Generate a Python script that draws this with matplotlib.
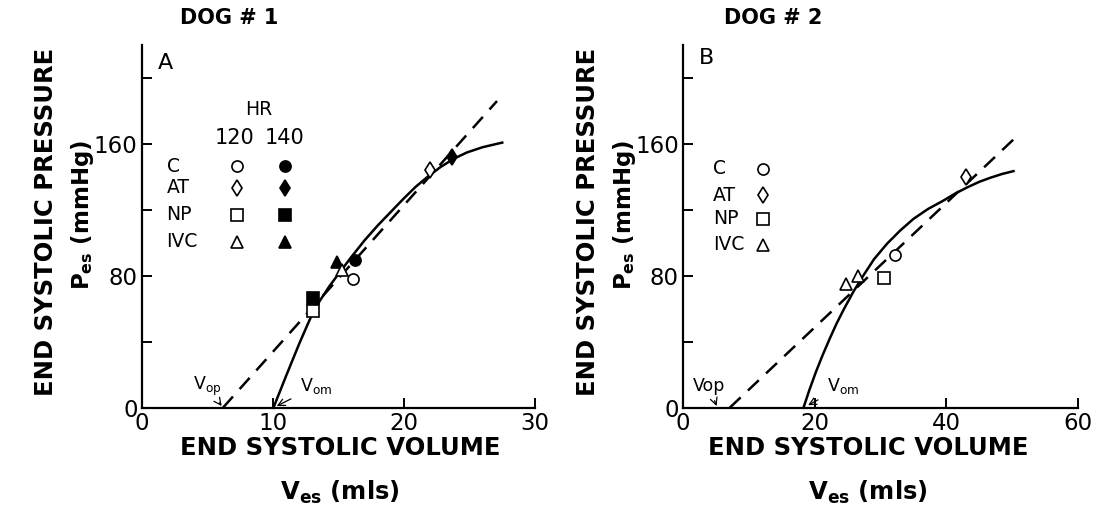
import matplotlib
matplotlib.use("Agg")
import matplotlib.pyplot as plt

# ---------------- data ----------------
# Panel A (Dog #1)
a_c120 = (16.15, 77.9)
a_c140 = (16.3, 89.6)
a_at120 = (22.0, 144.2)
a_at140 = (23.7, 151.9)
a_np120 = (13.05, 58.9)
a_np140 = (13.05, 66.4)
a_ivc120 = (15.27, 83.6)
a_ivc140 = (14.93, 88.6)

a_curve_x = [10.05, 11.0, 12.0, 12.6, 13.05, 13.6, 14.3, 15.0, 16.0, 17.0, 18.0, 19.2,
             20.0, 20.9, 21.8, 22.8, 23.8, 24.8, 26.0, 27.5]
a_curve_y = [0.0, 19.0, 38.5, 49.5, 57.5, 65.0, 73.5, 81.0, 91.5, 101.5, 110.5, 120.4,
             127.0, 134.0, 140.0, 146.0, 151.0, 154.8, 158.0, 160.8]
a_dash_x = [6.2, 27.1]
a_dash_y = [0.0, 186.0]

# Panel B (Dog #2)
b_c = (32.2, 92.6)
b_at = (43.0, 139.9)
b_np = (30.6, 78.9)
b_ivc_x = [24.7, 26.55]
b_ivc_y = [74.9, 80.0]

b_curve_x = [18.3, 19.2, 20.2, 21.2, 22.3, 23.3, 24.4, 25.9, 27.4, 29.0, 31.0, 33.0,
             35.0, 37.2, 39.5, 41.3, 43.1, 45.0, 46.7, 48.5, 50.2]
b_curve_y = [0.0, 10.8, 21.8, 31.8, 42.0, 50.8, 59.5, 70.5, 80.2, 90.0, 99.5, 107.5,
             114.5, 120.5, 125.5, 129.8, 133.5, 137.0, 139.5, 141.8, 143.5]
b_dash_x = [7.1, 51.1]
b_dash_y = [0.0, 166.1]

legend_rows = ["C", "AT", "NP", "IVC"]
legend_markers = ["o", "d", "s", "^"]
hr_labels = ["120", "140"]

a_xticks = [0, 10, 20, 30]
b_xticks = [0, 20, 40, 60]
yticks = [0, 40, 80, 120, 160, 200]
ytick_labels = ["0", "", "80", "", "160", ""]

# ---------------- figure ----------------
W, H = 1108, 521
plt.rcParams['font.family'] = ['DejaVu Sans']
fig = plt.figure(figsize=(W / 100, H / 100), dpi=100)

def px_rect(x0, x1, ytop, ybot):
    return [x0 / W, 1 - ybot / H, (x1 - x0) / W, (ybot - ytop) / H]

axA = fig.add_axes(px_rect(141.7, 535, 45, 407.7))
axB = fig.add_axes(px_rect(683, 1078, 45, 407.7))

def style(ax, xmax, xticks):
    ax.set_xlim(0, xmax)
    ax.set_ylim(0, 220)
    for s in ["top", "right"]:
        ax.spines[s].set_visible(False)
    for s in ["left", "bottom"]:
        ax.spines[s].set_linewidth(1.6)
    ax.set_xticks(xticks)
    ax.set_xticklabels([str(t) for t in xticks])
    ax.set_yticks(yticks)
    ax.set_yticklabels(ytick_labels)
    ax.tick_params(direction="in", length=7, width=1.4, labelsize=16.5, pad=3)

style(axA, 30, a_xticks)
style(axB, 60, b_xticks)

lw = 1.8
dash = (0, (6, 4))
ms = 8
mew = 1.2

# Panel A lines
axA.plot(a_curve_x, a_curve_y, color="black", lw=lw, clip_on=False,
         solid_joinstyle="round")
axA.plot(a_dash_x, a_dash_y, color="black", lw=lw, linestyle=dash, clip_on=False)

openkw = dict(markerfacecolor="white", markeredgecolor="black", markeredgewidth=mew,
              markersize=ms, linestyle="none", clip_on=False, zorder=5)
fillkw = dict(markerfacecolor="black", markeredgecolor="black", markeredgewidth=mew,
              markersize=ms, linestyle="none", clip_on=False, zorder=5)

a_open = [a_c120, a_at120, a_np120, a_ivc120]
a_fill = [a_c140, a_at140, a_np140, a_ivc140]
for m, p in zip(legend_markers, a_fill):
    axA.plot([p[0]], [p[1]], marker=m, **fillkw)
for m, p in zip(legend_markers, a_open):
    axA.plot([p[0]], [p[1]], marker=m, **openkw)

# Panel A legend
rows_y_A = [146.4, 133.3, 116.9, 100.7]
axA.text(8.9, 180.6, "HR", fontsize=13.5, ha="center", va="center")
axA.text(7.1, 163.5, hr_labels[0], fontsize=15, ha="center", va="center")
axA.text(10.9, 163.5, hr_labels[1], fontsize=15, ha="center", va="center")
for lab, m, yy in zip(legend_rows, legend_markers, rows_y_A):
    axA.text(1.9, yy, lab, fontsize=13.5, ha="left", va="center")
    axA.plot([7.25], [yy], marker=m, **openkw)
    axA.plot([10.94], [yy], marker=m, **fillkw)

axA.text(1.78, 209, "A", fontsize=16, ha="center", va="center")

# Vop / Vom annotations A
axA.annotate("V$_{\\mathrm{op}}$", xy=(6.1, 1.0), xytext=(5.0, 13.0), fontsize=12.5,
             ha="center", va="center",
             arrowprops=dict(arrowstyle="->", color="black", lw=0.9, shrinkA=2, shrinkB=0))
axA.annotate("V$_{\\mathrm{om}}$", xy=(10.3, 1.0), xytext=(13.3, 13.0), fontsize=12.5,
             ha="center", va="center",
             arrowprops=dict(arrowstyle="->", color="black", lw=0.9, shrinkA=5, shrinkB=0))

# Panel B lines
axB.plot(b_curve_x, b_curve_y, color="black", lw=lw, clip_on=False,
         solid_joinstyle="round")
axB.plot(b_dash_x, b_dash_y, color="black", lw=lw, linestyle=dash, clip_on=False)
axB.plot([b_c[0]], [b_c[1]], marker="o", **openkw)
axB.plot([b_at[0]], [b_at[1]], marker="d", **openkw)
axB.plot([b_np[0]], [b_np[1]], marker="s", **openkw)
axB.plot(b_ivc_x, b_ivc_y, marker="^", **openkw)

rows_y_B = [144.9, 128.9, 114.7, 98.7]
for lab, m, yy in zip(legend_rows, legend_markers, rows_y_B):
    axB.text(4.6, yy, lab, fontsize=13.5, ha="left", va="center")
    axB.plot([12.2], [yy], marker=m, **openkw)

axB.text(3.6, 212, "B", fontsize=16, ha="center", va="center")

axB.annotate("Vop", xy=(5.1, 1.0), xytext=(4.0, 13.0), fontsize=12.5,
             ha="center", va="center",
             arrowprops=dict(arrowstyle="->", color="black", lw=0.9, shrinkA=2, shrinkB=0))
axB.annotate("V$_{\\mathrm{om}}$", xy=(19.0, 1.5), xytext=(24.3, 13.0), fontsize=12.5,
             ha="center", va="center",
             arrowprops=dict(arrowstyle="->", color="black", lw=0.9, shrinkA=5, shrinkB=0))

# Titles and axis labels (figure pixel coords)
def ftext(x, y, s, **kw):
    fig.text(x / W, 1 - y / H, s, **kw)

ftext(229, 18, "DOG # 1", fontsize=15, fontweight="bold", ha="center", va="center")
ftext(773, 18, "DOG # 2", fontsize=15, fontweight="bold", ha="center", va="center")

for xl1, xl2, cx in [(46, 83, 340), (588, 624, 868)]:
    ftext(xl1, 222, "END SYSTOLIC PRESSURE", fontsize=17.5, fontweight="bold",
          rotation=90, ha="center", va="center")
    ftext(xl2, 215, "P$_{\\mathbf{es}}$ (mmHg)", fontsize=16.5, fontweight="bold",
          rotation=90, ha="center", va="center")
    ftext(cx, 448, "END SYSTOLIC VOLUME", fontsize=17.5, fontweight="bold",
          ha="center", va="center")
    ftext(cx, 492, "V$_{\\mathbf{es}}$ (mls)", fontsize=17.5, fontweight="bold",
          ha="center", va="center")

fig.savefig("out.png", dpi=100)
